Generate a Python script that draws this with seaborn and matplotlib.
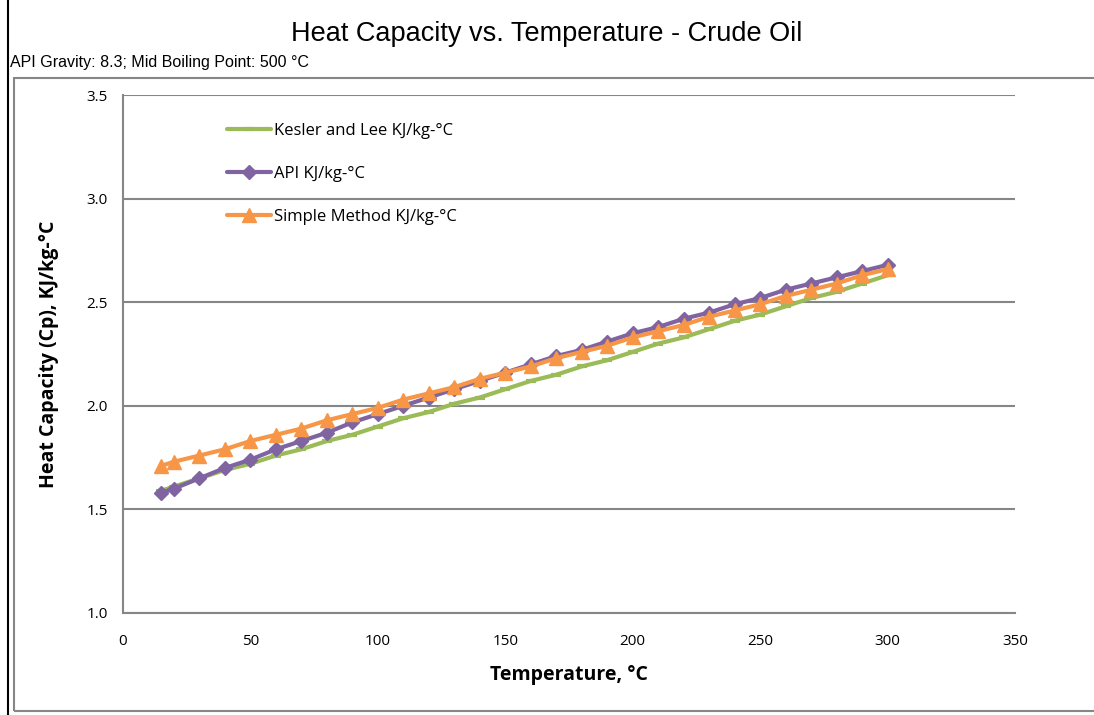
import matplotlib.pyplot as plt
import matplotlib.patches as patches
import pandas as pd
import seaborn as sns

# Temperatures (deg C) and heat capacity readings (KJ/kg-C)
temps = [15, 20, 30, 40, 50, 60, 70, 80, 90, 100, 110, 120, 130, 140, 150,
         160, 170, 180, 190, 200, 210, 220, 230, 240, 250, 260, 270, 280, 290, 300]
kesler = [1.59, 1.61, 1.65, 1.69, 1.72, 1.76, 1.79, 1.83, 1.86, 1.90, 1.94, 1.97,
          2.01, 2.04, 2.08, 2.12, 2.15, 2.19, 2.22, 2.26, 2.30, 2.33, 2.37, 2.41,
          2.44, 2.48, 2.52, 2.55, 2.59, 2.63]
api = [1.58, 1.60, 1.65, 1.70, 1.74, 1.79, 1.83, 1.87, 1.92, 1.96, 2.00, 2.04,
       2.08, 2.12, 2.16, 2.20, 2.24, 2.27, 2.31, 2.35, 2.38, 2.42, 2.45, 2.49,
       2.52, 2.56, 2.59, 2.62, 2.65, 2.68]
simple = [1.71, 1.73, 1.76, 1.79, 1.83, 1.86, 1.89, 1.93, 1.96, 1.99, 2.03, 2.06,
          2.09, 2.13, 2.16, 2.19, 2.23, 2.26, 2.29, 2.33, 2.36, 2.39, 2.43, 2.46,
          2.49, 2.53, 2.56, 2.59, 2.63, 2.66]

series = ["Kesler and Lee KJ/kg-°C", "API KJ/kg-°C", "Simple Method KJ/kg-°C"]
colors = ["#9BBB59", "#8064A2", "#F79646"]
markers = ["_", "D", "^"]
msizes = [7, 7.5, 10]

df = pd.DataFrame({"Temperature": temps, series[0]: kesler,
                   series[1]: api, series[2]: simple})
df_long = df.melt(id_vars="Temperature", var_name="Method", value_name="Cp")

sns.set_style("white")
plt.rcParams['font.family'] = ['Open Sans', 'DejaVu Sans']
plt.rcParams['text.color'] = 'black'

fig = plt.figure(figsize=(10.94, 7.15), dpi=100)
ax = fig.add_axes([0.1124, 0.1427, 0.8154, 0.7244])

# outer chart frames
fig.patches.append(patches.Rectangle((8 / 1094, -0.01), 1.1, 1.02, transform=fig.transFigure,
                                     fill=False, edgecolor="black", linewidth=1.5))
fig.patches.append(patches.Rectangle((14 / 1094, 4 / 715), 1.1, 633 / 715, transform=fig.transFigure,
                                     fill=False, edgecolor="#868686", linewidth=1.5))

for name, c, m, ms in zip(series, colors, markers, msizes):
    sub = df_long[df_long["Method"] == name]
    sns.lineplot(data=sub, x="Temperature", y="Cp", ax=ax, color=c, linewidth=3,
                 marker=m, markersize=ms, markeredgecolor=c,
                 markeredgewidth=3 if m == "_" else 1, label=name, zorder=3)

ax.set_xlim(0, 350)
ax.set_ylim(1.0, 3.5)
ax.set_xticks(range(0, 351, 50))
ax.set_yticks([1.0, 1.5, 2.0, 2.5, 3.0, 3.5])
ax.set_yticklabels(["1.0", "1.5", "2.0", "2.5", "3.0", "3.5"])
ax.grid(axis="y", color="#868686", linewidth=1.5)
ax.set_axisbelow(True)
for s in ["top", "right"]:
    ax.spines[s].set_visible(False)
for s in ["left", "bottom"]:
    ax.spines[s].set_color("#868686")
    ax.spines[s].set_linewidth(1.5)
ax.tick_params(axis="both", which="both", direction="out", length=5, width=1.2,
               color="#868686", labelcolor="black", labelsize=11, pad=6)
ax.tick_params(axis="x", pad=10)

ax.set_xlabel("Temperature, °C", fontsize=14, fontweight="bold", labelpad=12, color="black")
ax.set_ylabel("Heat Capacity (Cp), KJ/kg-°C", fontsize=14, fontweight="bold", labelpad=20,
              color="black")

leg = ax.legend(loc="upper left", bbox_to_anchor=(0.1, 0.975), frameon=False, fontsize=12,
                labelspacing=1.62, handlelength=2.6, handletextpad=0.2)
for t in leg.get_texts():
    t.set_color("black")

fig.text(0.5, 0.953, "Heat Capacity vs. Temperature - Crude Oil", ha="center", va="center",
         fontsize=19.5, family=["Liberation Sans", "DejaVu Sans"])
fig.text(10 / 1094, 1 - 62 / 715, "API Gravity: 8.3; Mid Boiling Point: 500 °C", ha="left",
         va="center", fontsize=11.5, family=["Liberation Sans", "DejaVu Sans"])

fig.savefig("out.png", dpi=100)
